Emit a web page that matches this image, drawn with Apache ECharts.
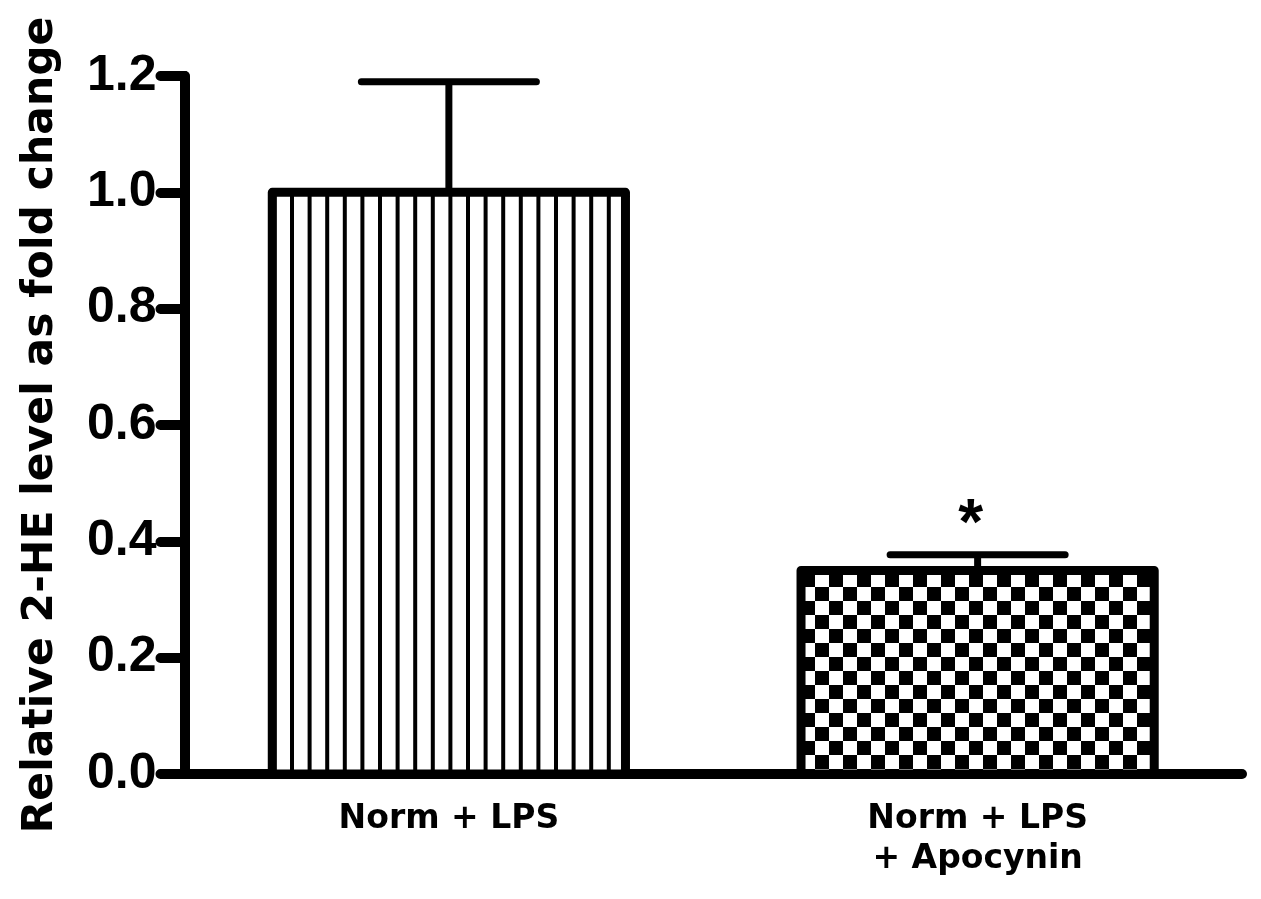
<!DOCTYPE html>
<html>
<head>
<meta charset="utf-8">
<script src="https://cdn.jsdelivr.net/npm/echarts@6/dist/echarts.min.js"></script>
<style>
html,body{margin:0;padding:0;background:#fff;}
#chart{width:1261px;height:899px;}
</style>
</head>
<body>
<div id="chart"></div>
<script>
const categories = ['Norm + LPS', 'Norm + LPS\n+ Apocynin'];
const values = [1.0, 0.35];
const errors = [0.19, 0.027];
const significance = ['', '*'];
const yAxisName = 'Relative 2-HE level as fold change';
const yMin = 0, yMax = 1.2, yInterval = 0.2;

function stripeCanvas() {
  const c = document.createElement('canvas');
  c.width = 88; c.height = 8;
  const g = c.getContext('2d');
  g.fillStyle = '#fff'; g.fillRect(0, 0, 88, 8);
  g.fillStyle = '#000';
  for (let k = 0; k < 5; k++) g.fillRect(8.4 + 17.6 * k, 0, 4, 8);
  return c;
}
function checkerCanvas() {
  const c = document.createElement('canvas');
  c.width = 28; c.height = 28;
  const g = c.getContext('2d');
  g.fillStyle = '#fff'; g.fillRect(0, 0, 28, 28);
  g.fillStyle = '#000';
  for (let i = -1; i < 3; i++) for (let j = -1; j < 3; j++) {
    if (((i + j) % 2 + 2) % 2 === 0) g.fillRect(3 + 14 * i, -1 + 14 * j, 14, 14);
  }
  return c;
}
const patterns = [
  { image: stripeCanvas(), repeat: 'repeat' },
  { image: checkerCanvas(), repeat: 'repeat' }
];

const chart = echarts.init(document.getElementById('chart'), null, { renderer: 'canvas' });
chart.setOption({
  animation: false,
  backgroundColor: '#fff',
  grid: { left: 184.5, right: 19, top: 76, bottom: 125, containLabel: false, outerBoundsMode: 'none' },
  xAxis: {
    type: 'category',
    data: categories,
    axisLine: { lineStyle: { color: '#000', width: 10, cap: 'round' } },
    axisTick: { show: false },
    axisLabel: {
      color: '#000', fontFamily: 'DejaVu Sans', fontWeight: 'bold', fontSize: 33,
      lineHeight: 40, margin: 25, interval: 0
    },
    splitLine: { show: false },
    z: 1
  },
  yAxis: {
    type: 'value',
    min: yMin, max: yMax, interval: yInterval,
    name: yAxisName,
    nameLocation: 'middle',
    nameGap: 122,
    nameRotate: 90,
    nameTextStyle: { color: '#000', fontFamily: 'DejaVu Sans', fontWeight: 'bold', fontSize: 42.5 },
    axisLine: { show: true, lineStyle: { color: '#000', width: 10, cap: 'round' } },
    axisTick: { show: true, length: 24, lineStyle: { color: '#000', width: 10, cap: 'round' } },
    axisLabel: {
      color: '#000', fontFamily: 'Liberation Sans', fontWeight: 'bold', fontSize: 50, margin: 28,
      formatter: v => v.toFixed(1)
    },
    splitLine: { show: false },
    z: 1
  },
  series: [
    {
      // bars: border centred on the value edge
      type: 'custom',
      z: 2,
      data: values.map((v, i) => [i, v]),
      renderItem: function (params, api) {
        const i = api.value(0), v = api.value(1);
        const topPt = api.coord([i, v]);
        const basePt = api.coord([i, 0]);
        const band = api.size([1, 0])[0];
        const half = band * 0.334;
        return {
          type: 'rect',
          shape: { x: topPt[0] - half, y: topPt[1], width: 2 * half, height: basePt[1] - topPt[1] },
          style: { fill: patterns[params.dataIndex], stroke: '#000', lineWidth: 9, lineJoin: 'round' }
        };
      }
    },
    {
      // error bars + significance mark
      type: 'custom',
      z: 1,
      data: values.map((v, i) => [i, v, errors[i]]),
      renderItem: function (params, api) {
        const i = api.value(0), v = api.value(1), e = api.value(2);
        const base = api.coord([i, v]);
        const top = api.coord([i, v + e]);
        const band = api.size([1, 0])[0];
        const half = band * 0.1655;
        const children = [
          { type: 'line', shape: { x1: base[0], y1: base[1], x2: top[0], y2: top[1] },
            style: { stroke: '#000', lineWidth: 7, lineCap: 'butt' } },
          { type: 'line', shape: { x1: top[0] - half, y1: top[1], x2: top[0] + half, y2: top[1] },
            style: { stroke: '#000', lineWidth: 7, lineCap: 'round' } }
        ];
        const sig = significance[params.dataIndex];
        if (sig) {
          children.push({ type: 'text', x: top[0] - 7, y: top[1] - 28,
            style: { text: sig, fill: '#000', font: 'bold 64px "Liberation Sans"', align: 'center', verticalAlign: 'middle' } });
        }
        return { type: 'group', children: children };
      }
    }
  ]
});
</script>
</body>
</html>
